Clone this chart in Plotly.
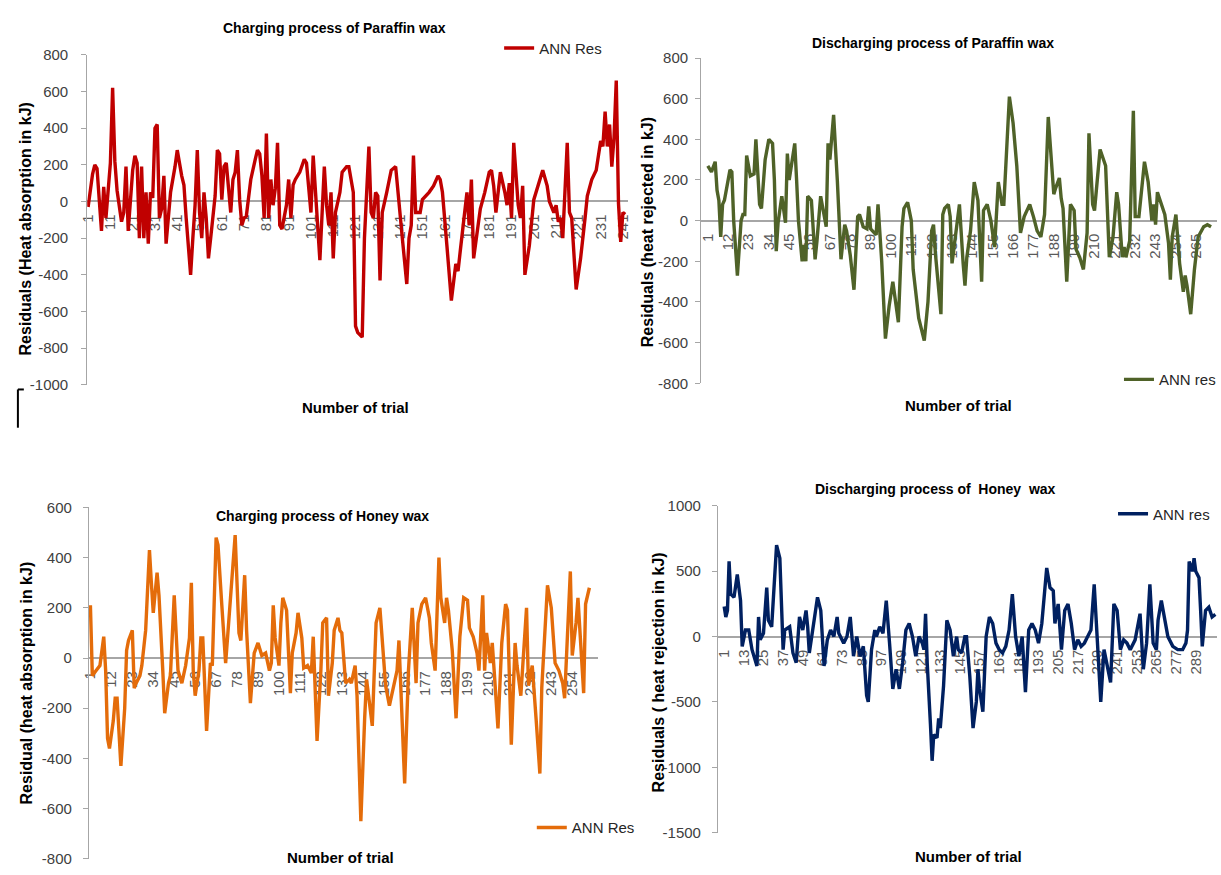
import plotly.graph_objects as go

# ---------------- DATA ----------------
# Panel 1: Charging process of Paraffin wax (ANN Res)
p1_trial = [1, 3, 4, 5, 7, 8, 9, 10, 11, 12, 13, 14, 16, 17, 18, 19, 21, 22, 23, 24,
            25, 26, 27, 28, 29, 30, 31, 32, 33, 34, 35, 36, 37, 38, 40, 41, 43, 44, 45, 47,
            48, 49, 50, 51, 52, 53, 54, 55, 56, 58, 59, 60, 61, 62, 63, 65, 66, 67, 68, 69,
            70, 71, 72, 73, 74, 76, 77, 78, 79, 80, 81, 82, 83, 84, 85, 86, 87, 88, 90, 91,
            92, 93, 94, 96, 98, 99, 100, 101, 102, 103, 105, 107, 108, 109, 110, 111, 112, 114, 115, 117,
            118, 120, 121, 122, 124, 125, 127, 128, 129, 130, 131, 132, 133, 135, 137, 139, 140, 142, 144, 145,
            146, 147, 148, 150, 151, 154, 156, 158, 159, 160, 162, 163, 164, 166, 167, 168, 170, 171, 172, 173,
            174, 176, 177, 179, 181, 182, 183, 184, 185, 186, 188, 189, 190, 191, 192, 194, 195, 196, 197, 199,
            201, 203, 205, 207, 208, 210, 211, 212, 213, 214, 215, 216, 217, 218, 220, 222, 224, 225, 227, 229,
            231, 232, 233, 234, 235, 236, 237, 238, 239, 240, 241, 242]
p1_res = [-30, 150, 200, 180, -160, 80, -90, 90, 210, 620, 220, 60, -110, -60, 190, -160, 170, 250, 210, -200,
          190, -200, 50, -230, 50, 20, 400, 420, -90, -40, 140, -230, -90, 50, 190, 280, 140, 90, -90, -400,
          -200, -20, 280, -60, -200, 50, -90, -310, -200, 30, 280, 260, 10, 190, 210, -60, 120, 160, 280, 10,
          -130, -90, -80, 10, 120, 230, 280, 260, 140, -90, 370, -90, 120, -20, 70, 320, -130, -150, -20, 120,
          -90, 90, 120, 160, 230, 210, 50, -60, 250, 50, -320, 190, -20, -130, 50, -310, -60, 50, 160, 190,
          190, 50, -680, -715, -740, -200, 300, -60, -90, 50, 30, -430, -60, 50, 170, 190, 50, -200, -450, -200,
          -130, 250, -60, -60, 10, 50, 85, 140, 120, 50, -240, -410, -540, -340, -380, -270, -60, 50, -130, 120,
          -310, -130, -40, 50, 160, 170, 85, -60, 70, 160, 50, -20, 100, -90, 320, -20, -90, 85, -400, -240,
          10, 85, 170, 85, 0, -60, -20, -110, -90, -200, 50, 320, -60, -90, -480, -310, -90, 30, 120, 170,
          330, 300, 490, 300, 420, 190, 350, 660, -10, -220, -60, -70]

# Panel 2: Discharging process of Paraffin wax (ANN res)
p2_trial = [1, 3, 5, 6, 7, 8, 9, 10, 13, 14, 15, 17, 19, 20, 21, 22, 24, 26, 27, 28,
            29, 30, 32, 34, 36, 37, 38, 39, 41, 43, 44, 45, 46, 48, 49, 50, 52, 53, 54, 55,
            57, 59, 60, 62, 65, 66, 67, 69, 71, 73, 75, 76, 78, 80, 82, 83, 85, 87, 88, 89,
            90, 92, 93, 95, 97, 99, 101, 104, 106, 107, 109, 111, 112, 115, 118, 120, 122, 123, 124, 127,
            128, 129, 131, 132, 133, 135, 137, 139, 140, 141, 143, 145, 147, 149, 150, 152, 154, 156, 158, 160,
            161, 164, 166, 168, 170, 172, 175, 177, 179, 181, 183, 185, 187, 188, 189, 191, 192, 193, 195, 197,
            199, 200, 202, 204, 206, 207, 209, 210, 213, 216, 218, 220, 222, 223, 225, 226, 227, 229, 231, 232,
            234, 236, 237, 239, 241, 242, 243, 244, 246, 248, 250, 251, 252, 254, 256, 258, 259, 260, 262, 264,
            266, 268, 269, 271, 273]
p2_res = [270, 240, 290, 150, 100, -80, 80, 100, 250, 240, 0, -270, 0, 30, 30, 320, 220, 230, 400, 200,
          80, 60, 300, 400, 380, 200, -150, -10, 120, -10, 330, 200, 260, 380, 200, 0, -200, -120, -200, 120,
          100, -190, -100, 120, -30, 380, 300, 520, 200, -190, -20, -50, -170, -340, 20, 30, -30, -40, 70, -40,
          -50, -70, 80, -200, -580, -420, -300, -500, -30, 60, 90, 0, -240, -480, -590, -400, -50, -20, -160, -460,
          30, 60, 80, 20, -210, -50, 80, -210, -320, -180, -50, 190, 100, -300, 50, 80, 0, -130, 190, 80,
          80, 610, 480, 270, -60, 20, 80, 20, -50, -80, 30, 510, 290, 130, 160, 210, 110, 60, -300, 80,
          50, -140, -180, -240, -60, 430, 80, 50, 350, 270, -180, -80, 140, 80, -180, -130, -180, -100, 540, 20,
          20, 180, 290, 190, 0, 80, -20, 140, 80, 30, -110, -290, -80, 30, -210, -350, -270, -320, -460, -240,
          -80, -50, -30, -20, -30]

# Panel 3: Charging process of Honey wax (ANN Res)
p3_trial = [1, 2, 4, 6, 8, 9, 10, 11, 13, 14, 15, 17, 19, 20, 21, 23, 24, 25, 27, 28,
            30, 32, 33, 34, 36, 37, 39, 40, 42, 43, 45, 46, 47, 49, 51, 53, 54, 55, 56, 58,
            59, 60, 62, 64, 65, 67, 68, 70, 72, 73, 75, 77, 79, 80, 82, 83, 85, 87, 89, 91,
            93, 95, 96, 97, 98, 100, 101, 102, 104, 106, 107, 109, 110, 112, 113, 115, 117, 118, 120, 121,
            122, 123, 125, 126, 128, 129, 131, 132, 133, 135, 137, 138, 140, 141, 143, 145, 146, 149, 151, 153,
            154, 156, 158, 160, 162, 163, 164, 166, 168, 170, 172, 173, 175, 177, 179, 180, 182, 184, 185, 187,
            188, 189, 191, 193, 195, 197, 199, 200, 202, 204, 205, 207, 208, 209, 211, 212, 213, 215, 217, 219,
            220, 222, 224, 225, 227, 228, 230, 231, 233, 235, 237, 238, 240, 241, 243, 245, 247, 249, 250, 253,
            254, 256, 257, 260, 261, 263]
p3_res = [210, -70, -50, -30, 85, -50, -320, -360, -250, -160, -160, -430, -200, 30, 70, 110, -120, -100, -70, -30,
          110, 430, 300, 180, 340, 250, -50, -220, -100, -70, 250, 80, -50, -100, -30, 80, 300, -50, -150, -50,
          80, 80, -290, -20, -30, 480, 450, 210, -20, 80, 300, 490, 100, 70, 330, 110, -180, 20, 60, 10,
          20, -50, -20, 210, 80, -30, 140, 240, 190, -140, 20, 100, 180, 80, -40, -30, -60, 85, -330, -215,
          -50, 140, 160, -150, -20, 110, 160, 110, 100, -100, -85, -100, -30, -150, -650, -240, -85, -270, 140, 200,
          110, -110, -190, -120, -50, 70, -100, -500, -50, 200, -100, 140, 215, 240, 160, 60, -50, 400, 240, 140,
          240, 190, 30, -240, 85, 240, 230, 120, 85, 20, -50, 250, -50, 100, -20, 60, -50, -280, 60, 215,
          190, -345, 60, -30, -150, -20, 200, -110, -30, -240, -460, -120, 140, 290, 200, -20, -50, -100, -160, 345,
          10, 140, 240, -140, 215, 280]

# Panel 4: Discharging process of Honey wax (ANN res)
p4_trial = [1, 2, 3, 4, 5, 7, 9, 11, 12, 14, 16, 18, 21, 22, 23, 25, 27, 28, 30, 33,
            35, 37, 38, 41, 43, 45, 47, 49, 51, 52, 53, 55, 58, 60, 62, 64, 66, 68, 70, 71,
            74, 76, 78, 80, 82, 84, 86, 88, 89, 91, 93, 94, 96, 98, 100, 102, 104, 106, 108, 110,
            112, 114, 116, 118, 120, 122, 123, 124, 125, 127, 128, 129, 131, 132, 133, 135, 137, 139, 141, 143,
            144, 146, 148, 149, 151, 153, 155, 156, 157, 159, 161, 163, 165, 167, 169, 171, 173, 175, 177, 179,
            181, 183, 185, 187, 189, 191, 193, 195, 198, 200, 202, 203, 205, 207, 209, 211, 213, 215, 217, 219,
            221, 223, 225, 227, 229, 231, 233, 235, 237, 239, 241, 243, 245, 247, 249, 252, 255, 257, 259, 261,
            263, 265, 266, 268, 270, 272, 275, 278, 281, 283, 284, 285, 287, 288, 289, 291, 292, 293, 295, 297,
            299, 301]
p4_res = [230, 150, 200, 575, 325, 300, 475, 275, -75, 50, 50, -100, -225, 150, -25, 25, 375, 125, 75, 700,
          600, -100, 50, 75, -125, -200, 150, 50, 200, 75, -125, 50, 300, 200, -225, -25, 50, 0, 150, 25,
          -50, 0, 150, -150, 0, -150, -75, -450, -500, -100, 50, 0, 75, 25, 275, -50, -400, -250, -400, -200,
          50, 100, 0, -150, 0, -50, -100, 175, -200, -675, -950, -750, -775, -625, -700, -375, 125, 50, -150, 0,
          -100, -125, 0, 0, -300, -700, -500, -250, -400, -575, 0, 150, 100, -50, -100, -125, -75, 50, 325, 0,
          -150, 0, -425, 50, 100, 50, -50, 100, 525, 375, 350, 100, 250, -100, 200, 250, 100, -100, -25, -75,
          -50, 0, 50, 400, -100, -500, -100, -225, -350, 250, 200, -100, -25, -50, -100, -25, 175, -250, -50, 400,
          -50, -100, 125, 275, 150, 0, -75, -100, -100, -50, 50, 575, 500, 600, 500, 450, 200, -75, 200, 225,
          150, 170]

# Tick labels / text
p1_xticks = list(range(1, 242, 10))
p2_xticks = list(range(1, 266, 11))
p3_xticks = list(range(1, 255, 11))
p4_xticks = list(range(1, 290, 12))
p1_yticks = list(range(-1000, 801, 200))
p2_yticks = list(range(-800, 801, 200))
p3_yticks = list(range(-800, 601, 200))
p4_yticks = list(range(-1500, 1001, 500))

titles = ["Charging process of Paraffin wax", "Discharging process of Paraffin wax",
          "Charging process of Honey wax", "Discharging process of  Honey  wax"]
ytitles = ["Residuals (Heat absorption in kJ)", "Residuals (heat rejected in kJ)",
           "Residual (heat absorption in kJ)", "Residuals ( heat rejection in kJ)"]
series_names = ["ANN Res", "ANN res", "ANN Res", "ANN res"]
xtitle = "Number of trial"

# ---------------- LAYOUT ----------------
W, H = 1221, 875
def px(x):
    return x / W
def py(y):
    return 1 - y / H

FONT = "Liberation Sans, Arial, sans-serif"
GRAY = "#A6A6A6"
TXT = "#404040"

panels = [
    dict(t=p1_trial, v=p1_res, color="#C00000", xd=(80, 626), yd=(46.7, 383.3), xr=(0.6, 243.2),
         yr=(-1000, 800), xt=p1_xticks, yt=p1_yticks, zero=196.3, ystand=10,
         title=(330, 19), xtitle=(351, 406), ytitle=(18, 224), leg=(496, 40)),
    dict(t=p2_trial, v=p2_res, color="#4F6228", xd=(700, 1221), yd=(50, 381.7), xr=(-2.6, 276.2),
         yr=(-800, 800), xt=p2_xticks, yt=p2_yticks, zero=215.8, ystand=4,
         title=(934, 35), xtitle=(960, 404), ytitle=(646, 228), leg=(1122, 378)),
    dict(t=p3_trial, v=p3_res, color="#E46C0A", xd=(81.7, 596), yd=(508.3, 866.7), xr=(0.2, 267.6),
         yr=(-800, 600), xt=p3_xticks, yt=p3_yticks, zero=661.9, ystand=8,
         title=(318, 517), xtitle=(336, 865), ytitle=(19, 687), leg=(529, 835)),
    dict(t=p4_trial, v=p4_res, color="#002060", xd=(717, 1221), yd=(506.7, 840), xr=(-2.8, 302),
         yr=(-1500, 1000), xt=p4_xticks, yt=p4_yticks, zero=640, ystand=8,
         title=(937, 490), xtitle=(970, 864), ytitle=(657, 677), leg=(1116, 515)),
]

fig = go.Figure()
annotations = []
layout = {}
for i, p in enumerate(panels):
    n = "" if i == 0 else str(i + 1)
    legname = "legend" + n
    fig.add_trace(go.Scatter(
        x=p["t"], y=p["v"], mode="lines", name=series_names[i],
        line=dict(color=p["color"], width=3.4),
        xaxis="x" + n, yaxis="y" + n, legend=legname, showlegend=True))
    layout["xaxis" + n] = dict(
        domain=[px(p["xd"][0]), px(p["xd"][1])], range=list(p["xr"]),
        anchor="free", position=py(p["zero"]),
        showline=True, linecolor=GRAY, linewidth=2, showgrid=False, zeroline=False,
        tickmode="array", tickvals=p["xt"], ticktext=[str(v) for v in p["xt"]],
        tickangle=-90, ticks="", tickfont=dict(family=FONT, size=15, color="#595959"),
        ticklabelstandoff=6, layer="below traces", fixedrange=True)
    layout["yaxis" + n] = dict(
        domain=[py(p["yd"][1]), py(p["yd"][0])], range=list(p["yr"]),
        anchor="x" + n, showline=True, linecolor=GRAY, linewidth=1,
        showgrid=False, zeroline=False, ticks="outside", ticklen=5, tickcolor=GRAY,
        tickmode="array", tickvals=p["yt"], ticktext=[str(v) for v in p["yt"]],
        tickfont=dict(family=FONT, size=15, color=TXT), ticklabelstandoff=p["ystand"],
        fixedrange=True)
    layout[legname] = dict(
        x=px(p["leg"][0]), y=py(p["leg"][1]), xanchor="left", yanchor="middle",
        bgcolor="rgba(0,0,0,0)", borderwidth=0,
        font=dict(family=FONT, size=15, color="#262626"), itemwidth=30,
        tracegroupgap=0)
    annotations.append(dict(
        text="<b>" + titles[i] + "</b>", x=px(p["title"][0]), y=py(p["title"][1]),
        xref="paper", yref="paper", showarrow=False, xanchor="center", yanchor="middle",
        font=dict(family=FONT, size=14, color="#000000")))
    annotations.append(dict(
        text="<b>" + xtitle + "</b>", x=px(p["xtitle"][0]), y=py(p["xtitle"][1]),
        xref="paper", yref="paper", showarrow=False, xanchor="center", yanchor="middle",
        font=dict(family=FONT, size=15, color="#000000")))
    annotations.append(dict(
        text="<b>" + ytitles[i] + "</b>", x=px(p["ytitle"][0]), y=py(p["ytitle"][1]),
        xref="paper", yref="paper", showarrow=False, xanchor="center", yanchor="middle",
        textangle=-90, font=dict(family=FONT, size=16, color="#000000")))

shapes = [
    dict(type="line", xref="paper", yref="paper", x0=px(10), x1=px(10), y0=py(388), y1=py(427),
         line=dict(color="#000000", width=2)),
    dict(type="line", xref="paper", yref="paper", x0=px(10), x1=px(16), y0=py(388), y1=py(388),
         line=dict(color="#000000", width=2)),
]

fig.update_layout(
    width=W, height=H, margin=dict(l=0, r=0, t=0, b=0),
    paper_bgcolor="white", plot_bgcolor="white",
    annotations=annotations, shapes=shapes, **layout)

fig.write_html("out.html")
